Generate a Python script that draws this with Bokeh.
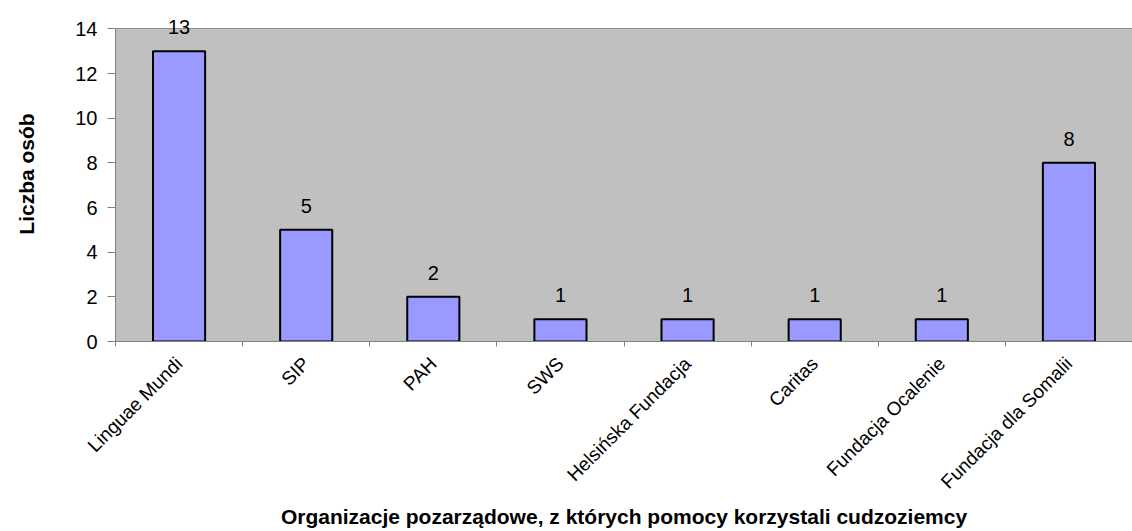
import math
from bokeh.plotting import figure
from bokeh.models import ColumnDataSource, Range1d, FixedTicker, LabelSet, BoxAnnotation
from bokeh.core.properties import value
from bokeh.embed import file_html
from bokeh.resources import INLINE

categories = ["Linguae Mundi", "SIP", "PAH", "SWS", "Helsińska Fundacja",
              "Caritas", "Fundacja Ocalenie", "Fundacja dla Somalii"]
counts = [13, 5, 2, 1, 1, 1, 1, 8]
y_ticks = [0, 2, 4, 6, 8, 10, 12, 14]
x_title = "Organizacje pozarządowe, z których pomocy korzystali cudzoziemcy"
y_title = "Liczba osób"

FONT = "Liberation Sans"
Y_MAX = y_ticks[-1]

centers = [i + 0.5 for i in range(len(categories))]
bounds = list(range(len(categories) + 1))

src = ColumnDataSource(dict(x=centers, count=counts, label=[str(c) for c in counts]))

p = figure(width=1132, height=531,
           x_range=Range1d(0, len(categories)), y_range=Range1d(0, 15),
           output_backend="svg", toolbar_location=None,
           min_border_left=115, min_border_right=0,
           min_border_top=6, min_border_bottom=189)

p.background_fill_color = "white"
p.border_fill_color = "white"
p.outline_line_color = None

# grey plot area (0..14 only), leaving room above for the value labels
p.add_layout(BoxAnnotation(bottom=0, top=Y_MAX, fill_color="#C0C0C0",
                           fill_alpha=1.0, line_color=None, level="underlay"))

p.vbar(x="x", top="count", bottom=0, width=0.41, source=src,
       fill_color="#9999FF", line_color="black", line_width=2)

labels = LabelSet(x="x", y="count", text="label", source=src,
                  text_align="center", text_baseline="bottom", y_offset=17,
                  text_font=value(FONT), text_font_size=value("20px"),
                  text_color="black")
p.add_layout(labels)

# grid
p.xgrid.grid_line_color = None
p.ygrid.grid_line_color = "#808080"
p.ygrid.grid_line_width = 1

# y axis
p.yaxis.ticker = FixedTicker(ticks=y_ticks)
p.yaxis.bounds = (0, Y_MAX)
p.yaxis.axis_line_color = "#808080"
p.yaxis.major_tick_line_color = "#808080"
p.yaxis.major_tick_out = 8
p.yaxis.major_tick_in = 0
p.yaxis.minor_tick_line_color = None
p.yaxis.major_label_standoff = 10
p.yaxis.major_label_text_font = FONT
p.yaxis.major_label_text_font_size = "20px"
p.yaxis.major_label_text_color = "black"
p.yaxis.axis_label = y_title
p.yaxis.axis_label_text_font = FONT
p.yaxis.axis_label_text_font_size = "21px"
p.yaxis.axis_label_text_font_style = "bold"
p.yaxis.axis_label_text_color = "black"
p.yaxis.axis_label_standoff = 34

# x axis
p.xaxis.ticker = FixedTicker(ticks=centers, minor_ticks=bounds)
p.xaxis.major_label_overrides = {c: name for c, name in zip(centers, categories)}
p.xaxis.axis_line_color = "#808080"
p.xaxis.major_tick_out = 0
p.xaxis.major_tick_in = 0
p.xaxis.minor_tick_out = 5
p.xaxis.minor_tick_in = 0
p.xaxis.minor_tick_line_color = "#808080"
p.xaxis.major_label_orientation = math.pi / 4
p.xaxis.major_label_standoff = 14
p.xaxis.major_label_text_font = FONT
p.xaxis.major_label_text_font_size = "19px"
p.xaxis.major_label_text_color = "black"
p.xaxis.axis_label = x_title
p.xaxis.axis_label_text_font = FONT
p.xaxis.axis_label_text_font_size = "21px"
p.xaxis.axis_label_text_font_style = "bold"
p.xaxis.axis_label_text_color = "black"
p.xaxis.axis_label_standoff = 2

open("out.html", "w").write(file_html(p, INLINE))
